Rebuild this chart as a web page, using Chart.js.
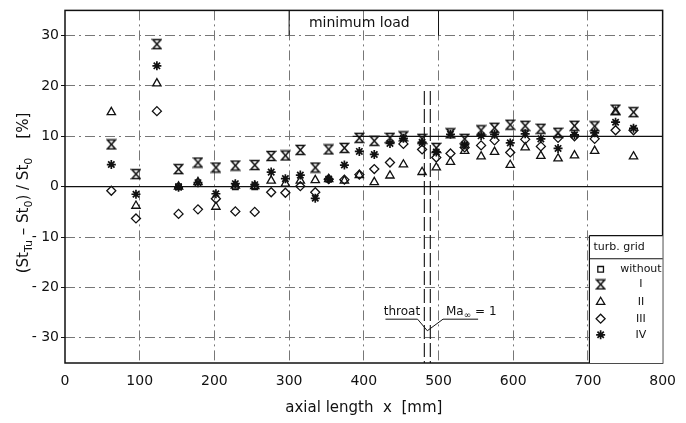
<!DOCTYPE html>
<html>
<head>
<meta charset="utf-8">
<title>minimum load</title>
<script src="https://cdn.jsdelivr.net/npm/chart.js@4/dist/chart.umd.min.js"></script>
<style>
  html, body { margin: 0; padding: 0; background: #fff; }
  #wrap { width: 686px; height: 423px; }
</style>
</head>
<body>
<div id="wrap"><canvas id="chart" width="686" height="423"></canvas></div>
<script>
"use strict";

// measuring stations along the cascade [mm]
const stations = [62, 95, 123, 152, 178, 202, 228, 254, 276, 295, 315, 335, 353, 374, 394, 414,
                  435, 453, 478, 497, 516, 535, 557, 575, 596, 616, 637, 660, 682, 709, 737, 761];

// (St_Tu - St_0)/St_0 in % for each turbulence grid
// reference case only shows where it is not hidden by the other marks
const gridWithout = [null, null, null, 0, null, null, 0, 0, null, null, null, null, null, null, null, null,
                     null, null, null, null, null, null, null, null, null, null, null, null, null, null, null, null];
const gridI   = [8.4, 2.5, 28.3, 3.5, 4.8, 3.8, 4.2, 4.3, 6.1, 6.2, 7.3, 3.8, 7.4, 7.7, 9.7, 9.1,
                 9.7, 10.0, 9.5, 7.7, 10.6, 9.5, 11.2, 11.7, 12.3, 12.1, 11.5, 10.7, 12.1, 12.0, 15.3, 14.8];
const gridII  = [14.8, -3.8, 20.5, 0.0, 0.9, -4.0, 0.2, 0.1, 1.2, 0.6, 1.2, 1.3, 1.5, 1.2, 2.3, 0.9,
                 2.2, 4.4, 2.9, 3.8, 4.9, 7.1, 6.0, 6.9, 4.3, 7.8, 6.1, 5.6, 6.2, 7.1, 14.8, 6.0];
const gridIII = [-0.8, -6.3, 15.0, -5.4, -4.5, -2.4, -4.9, -5.0, -1.1, -1.2, 0.1, -1.1, 1.5, 1.4, 2.4, 3.5,
                 4.8, 8.5, 7.4, 5.8, 6.6, 7.8, 8.2, 9.2, 6.8, 9.4, 8.0, 9.7, 10.0, 9.5, 11.2, 11.2];
const gridIV  = [4.4, -1.5, 24.0, -0.1, 0.8, -1.4, 0.6, 0.4, 2.9, 1.6, 2.3, -2.3, 1.5, 4.3, 7.0, 6.4,
                 8.6, 9.6, 8.8, 6.9, 10.4, 8.3, 10.1, 10.4, 8.7, 10.5, 9.5, 7.6, 10.3, 10.7, 12.8, 11.6];

const xTicks = [0, 100, 200, 300, 400, 500, 600, 700, 800];
const yTicks = [-30, -20, -10, 0, 10, 20, 30];

const legendLabels = ['without', 'I', 'II', 'III', 'IV'];

const INK = '#111';
const FONT = '"DejaVu Sans", "Liberation Sans", sans-serif';

// hourglass marker (two triangles tip to tip), not built into Chart.js
function makeHourglass() {
    const c = document.createElement('canvas');
    c.width = 11;
    c.height = 12;
    const g = c.getContext('2d');
    g.strokeStyle = INK;
    g.lineWidth = 1.5;
    g.beginPath();
    g.moveTo(1.5, 1.5);
    g.lineTo(9.5, 1.5);
    g.lineTo(1.5, 10.5);
    g.lineTo(9.5, 10.5);
    g.closePath();
    g.stroke();
    return c;
}
const hourglass = makeHourglass();

function toPoints(values) {
    return stations.map((x, i) => ({ x: x, y: values[i] }));
}

function series(label, values, style, radius, width) {
    return {
        label: label,
        data: toPoints(values),
        pointStyle: style,
        pointRadius: radius,
        pointBorderWidth: width,
        pointBorderColor: INK,
        pointBackgroundColor: 'rgba(255,255,255,0)',
        showLine: false
    };
}

const datasets = [
    series('I', gridI, hourglass, 5, 1.3),
    series('IV', gridIV, 'star', 4.5, 1.7),
    series('III', gridIII, 'rectRot', 4.5, 1.3),
    series('II', gridII, 'triangle', 4.8, 1.3),
    series('without', gridWithout, 'rect', 4, 1.3)
];
const legendStyles = [
    { pointStyle: 'rect', radius: 4, width: 1.3 },
    { pointStyle: hourglass, radius: 5, width: 1.3 },
    { pointStyle: 'triangle', radius: 4.8, width: 1.3 },
    { pointStyle: 'rectRot', radius: 4.5, width: 1.3 },
    { pointStyle: 'star', radius: 4.5, width: 1.7 }
];

// write text with subscripts: parts = [[text, isSub], ...]
function drawRich(ctx, parts, x, y, size, align) {
    const big = size + 'px ' + FONT;
    const small = Math.round(size * 0.72) + 'px ' + FONT;
    let total = 0;
    parts.forEach(p => {
        ctx.font = p[1] ? small : big;
        total += ctx.measureText(p[0]).width;
    });
    let cx = align === 'center' ? x - total / 2 : x;
    ctx.textAlign = 'left';
    ctx.textBaseline = 'middle';
    parts.forEach(p => {
        ctx.font = p[1] ? small : big;
        ctx.fillText(p[0], cx, p[1] ? y + size * 0.35 : y);
        cx += ctx.measureText(p[0]).width;
    });
}

function line(ctx, x1, y1, x2, y2) {
    ctx.beginPath();
    ctx.moveTo(x1, y1);
    ctx.lineTo(x2, y2);
    ctx.stroke();
}

const decorations = {
    id: 'decorations',
    beforeDatasetsDraw(chart) {
        const ctx = chart.ctx;
        const xs = chart.scales.x, ys = chart.scales.y;
        const a = chart.chartArea;
        ctx.save();
        ctx.strokeStyle = INK;
        ctx.lineWidth = 1.2;
        // zero line and the solid part of the 10 % line
        line(ctx, a.left, ys.getPixelForValue(0), a.right, ys.getPixelForValue(0));
        line(ctx, xs.getPixelForValue(385), ys.getPixelForValue(10), a.right, ys.getPixelForValue(10));
        // box round the load label
        ctx.lineWidth = 1;
        line(ctx, xs.getPixelForValue(300), a.top, xs.getPixelForValue(300), ys.getPixelForValue(30));
        line(ctx, xs.getPixelForValue(500), a.top, xs.getPixelForValue(500), ys.getPixelForValue(30));
        // throat lines
        ctx.setLineDash([14, 4]);
        ctx.lineWidth = 1.1;
        [481, 489].forEach(v => {
            const px = xs.getPixelForValue(v);
            line(ctx, px, ys.getPixelForValue(19), px, a.bottom);
        });
        ctx.setLineDash([]);
        // frame
        ctx.lineWidth = 1.5;
        ctx.strokeRect(a.left, a.top, a.right - a.left, a.bottom - a.top);
        ctx.restore();
    },
    afterDraw(chart) {
        const ctx = chart.ctx;
        const xs = chart.scales.x, ys = chart.scales.y;
        const a = chart.chartArea;
        const X = v => xs.getPixelForValue(v);
        const Y = v => ys.getPixelForValue(v);
        ctx.save();
        ctx.fillStyle = INK;
        ctx.strokeStyle = INK;

        // load case label
        drawRich(ctx, [['minimum load', false]], X(394), Y(32.4), 14, 'center');

        // throat / Ma = 1 marker
        ctx.lineWidth = 1;
        drawRich(ctx, [['throat', false]], X(451), Y(-24.8), 12, 'center');
        drawRich(ctx, [['Ma', false], ['\u221e', true], [' = 1', false]], X(510), Y(-24.8), 12, 'left');
        line(ctx, X(429), Y(-26.3), X(472), Y(-26.3));
        line(ctx, X(472), Y(-26.3), X(485), Y(-28.6));
        line(ctx, X(485), Y(-28.6), X(506), Y(-26.3));
        line(ctx, X(506), Y(-26.3), X(553), Y(-26.3));

        // legend table
        const bx = X(702), by = Y(-9.7);
        ctx.fillStyle = '#fff';
        ctx.fillRect(bx, by, a.right - bx, a.bottom - by);
        ctx.fillStyle = INK;
        ctx.lineWidth = 1.2;
        line(ctx, bx, by, a.right, by);
        line(ctx, bx, by, bx, a.bottom);
        line(ctx, bx, Y(-14.3), a.right, Y(-14.3));
        drawRich(ctx, [['turb. grid', false]], bx + 4, Y(-12), 11, 'left');
        const rows = [-16.4, -19.4, -22.9, -26.2, -29.4];
        rows.forEach((r, i) => {
            const st = legendStyles[i];
            ctx.lineWidth = st.width;
            ctx.fillStyle = 'rgba(255,255,255,0)';
            Chart.helpers.drawPoint(ctx, { pointStyle: st.pointStyle, radius: st.radius, rotation: 0, borderWidth: st.width }, X(717), Y(r));
            ctx.fillStyle = INK;
            drawRich(ctx, [[legendLabels[i], false]], X(771), Y(r), 11, 'center');
        });

        // y axis title
        ctx.translate(24, 193);
        ctx.rotate(-Math.PI / 2);
        drawRich(ctx, [['(St', false], ['Tu', true], [' \u2013 St', false], ['0', true],
                       [') / St', false], ['0', true], ['    [%]', false]], 0, 0, 15, 'center');
        ctx.restore();
    }
};

function gridColor(c) {
    const v = c.tick ? c.tick.value : null;
    return (v === 0 || v === 800) ? 'rgba(0,0,0,0)' : '#777';
}

new Chart(document.getElementById('chart'), {
    type: 'scatter',
    data: { datasets: datasets },
    options: {
        responsive: false,
        animation: false,
        devicePixelRatio: 1,
        layout: { padding: { top: 5, right: 16, left: 0, bottom: 0 } },
        plugins: {
            legend: { display: false },
            tooltip: { enabled: false }
        },
        scales: {
            x: {
                type: 'linear',
                min: 0,
                max: 800,
                afterBuildTicks: s => { s.ticks = xTicks.map(v => ({ value: v })); },
                afterFit: s => { s.height = 60; },
                grid: { color: gridColor, lineWidth: 1, drawTicks: false },
                border: { display: false, dash: [10, 4, 2, 4] },
                ticks: { color: INK, padding: 10, font: { family: FONT, size: 14 } },
                title: {
                    display: true,
                    text: 'axial length  x  [mm]',
                    color: INK,
                    padding: { top: 0, bottom: 6 },
                    font: { family: FONT, size: 15 }
                }
            },
            y: {
                type: 'linear',
                min: -35,
                max: 35,
                afterBuildTicks: s => { s.ticks = yTicks.map(v => ({ value: v })); },
                afterFit: s => { s.width = 65; },
                grid: { color: gridColor, lineWidth: 1, drawTicks: true, tickLength: 4,
                        tickColor: INK, tickBorderDash: [] },
                border: { display: false, dash: [10, 4, 2, 4] },
                ticks: {
                    color: INK,
                    padding: 2,
                    font: { family: FONT, size: 14 },
                    callback: v => v < 0 ? '- ' + Math.abs(v) : String(v)
                }
            }
        }
    },
    plugins: [decorations]
});
</script>
</body>
</html>
